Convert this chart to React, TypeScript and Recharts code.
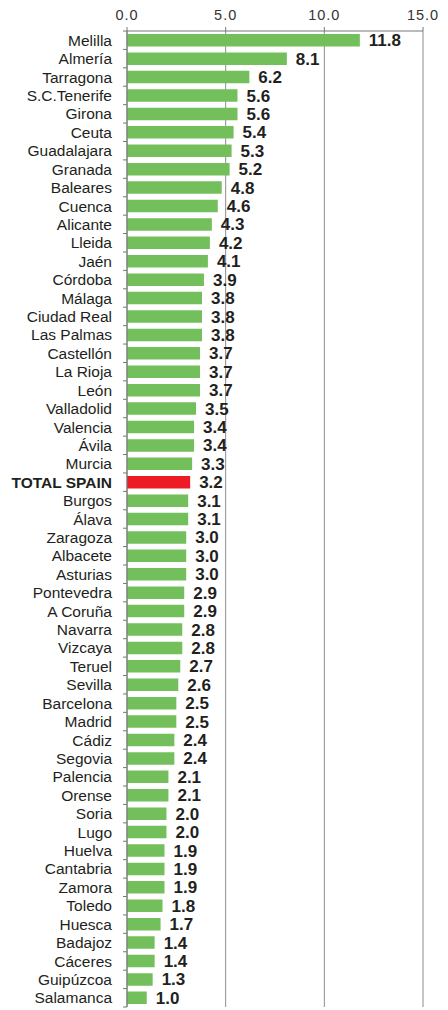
import { BarChart, Bar, XAxis, YAxis, CartesianGrid, Cell, LabelList } from "recharts";

const provinces = [
  "Melilla", "Almería", "Tarragona", "S.C.Tenerife", "Girona", "Ceuta", "Guadalajara", "Granada",
  "Baleares", "Cuenca", "Alicante", "Lleida", "Jaén", "Córdoba", "Málaga", "Ciudad Real",
  "Las Palmas", "Castellón", "La Rioja", "León", "Valladolid", "Valencia", "Ávila", "Murcia",
  "TOTAL SPAIN", "Burgos", "Álava", "Zaragoza", "Albacete", "Asturias", "Pontevedra", "A Coruña",
  "Navarra", "Vizcaya", "Teruel", "Sevilla", "Barcelona", "Madrid", "Cádiz", "Segovia",
  "Palencia", "Orense", "Soria", "Lugo", "Huelva", "Cantabria", "Zamora", "Toledo",
  "Huesca", "Badajoz", "Cáceres", "Guipúzcoa", "Salamanca",
];

const values = [
  11.8, 8.1, 6.2, 5.6, 5.6, 5.4, 5.3, 5.2,
  4.8, 4.6, 4.3, 4.2, 4.1, 3.9, 3.8, 3.8,
  3.8, 3.7, 3.7, 3.7, 3.5, 3.4, 3.4, 3.3,
  3.2, 3.1, 3.1, 3.0, 3.0, 3.0, 2.9, 2.9,
  2.8, 2.8, 2.7, 2.6, 2.5, 2.5, 2.4, 2.4,
  2.1, 2.1, 2.0, 2.0, 1.9, 1.9, 1.9, 1.8,
  1.7, 1.4, 1.4, 1.3, 1.0,
];

const xTicks = [0, 5, 10, 15];
const highlight = "TOTAL SPAIN";

const data = provinces.map((name, i) => ({ name, value: values[i] }));

const FONT = '"Liberation Sans", Arial, sans-serif';
const W = 448;
const H = 1010;
const TOP = 31;
const BOTTOM = 3;
const band = (H - TOP - BOTTOM) / provinces.length;

function ProvinceTick(props: any) {
  const { x, y, payload, index } = props;
  const isTotal = payload.value === highlight;
  const axisX = x + 15;
  return (
    <g>
      <line x1={axisX - 4} x2={axisX} y1={y - band / 2} y2={y - band / 2} stroke="#777" />
      {index === provinces.length - 1 && (
        <line x1={axisX - 4} x2={axisX} y1={y + band / 2} y2={y + band / 2} stroke="#777" />
      )}
      <text
        x={x}
        y={y}
        dy="0.36em"
        textAnchor="end"
        fontSize={15.5}
        fontWeight={isTotal ? "bold" : "normal"}
        fill="#231f20"
        fontFamily={FONT}
      >
        {payload.value}
      </text>
    </g>
  );
}

export default function App() {
  return (
    <div style={{ position: "absolute", left: 0, top: 0, width: W, height: H, background: "#fff" }}>
      <BarChart
        width={W}
        height={H}
        data={data}
        layout="vertical"
        margin={{ top: 0, right: 25, bottom: BOTTOM, left: 0 }}
        barSize={12.5}
      >
        <CartesianGrid horizontal={false} stroke="#8c8c8c" />
        <XAxis
          type="number"
          orientation="top"
          domain={[0, 15]}
          ticks={xTicks}
          tickFormatter={(v: number) => v.toFixed(1)}
          height={TOP}
          tickSize={4}
          tickMargin={7}
          stroke="#777"
          tick={{ fontSize: 14.5, fill: "#333", fontFamily: FONT, letterSpacing: 1 }}
        />
        <YAxis
          type="category"
          dataKey="name"
          width={127}
          interval={0}
          tickSize={0}
          tickMargin={15}
          tickLine={false}
          stroke="#777"
          tick={<ProvinceTick />}
        />
        <Bar dataKey="value" isAnimationActive={false}>
          {data.map((d) => (
            <Cell key={d.name} fill={d.name === highlight ? "#ed1c24" : "#72bf5b"} />
          ))}
          <LabelList
            dataKey="value"
            position="right"
            offset={9}
            formatter={(v: number) => v.toFixed(1)}
            style={{ fontSize: 17, fontWeight: "bold", fill: "#231f20", fontFamily: FONT }}
          />
        </Bar>
      </BarChart>
    </div>
  );
}
